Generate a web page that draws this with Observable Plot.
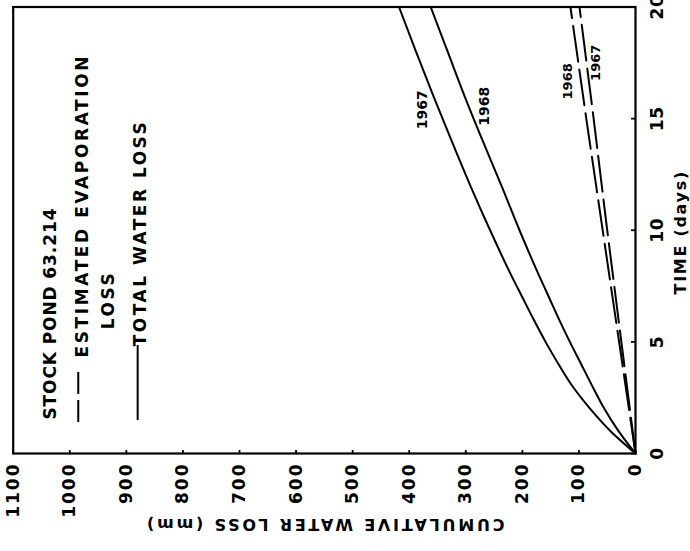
<!DOCTYPE html>
<html><head><meta charset="utf-8">
<script src="https://cdn.jsdelivr.net/npm/d3@7"></script>
<script src="https://cdn.jsdelivr.net/npm/@observablehq/plot@0.6"></script>
<style>
body{margin:0;background:#fff;}
#wrap{position:relative;width:690px;height:551px;overflow:hidden;background:#fff;}
#wrap > svg{position:absolute;left:0;top:0;transform-origin:0 0;transform:translate(0px,551px) rotate(-90deg);}
</style></head><body><div id="wrap"></div>
<script>
// Time (days) and cumulative water loss (mm), stock pond 63.214
const days = [0, 1, 2, 3, 4, 5, 6, 7, 8, 10, 12, 14, 16, 18, 20];
const total1967 = [0, 44, 80, 111, 136, 159, 180, 200, 220, 257, 292, 325, 357, 388, 418];
const total1968 = [0, 30, 55, 76, 96, 116, 135, 153, 171, 205, 237, 270, 302, 332, 362];
const evapDays = [0, 5, 10, 15, 20];
const evap1968 = [0, 29, 58, 87, 115];
const evap1967 = [0, 25, 50, 74, 99];
const timeTicks = [0, 5, 10, 15, 20];
const lossTicks = [0, 100, 200, 300, 400, 500, 600, 700, 800, 900, 1000, 1100];
const curveNames = ["1967", "1968", "1968", "1967"];
const legendLines = ["STOCK POND 63.214", "ESTIMATED EVAPORATION", "LOSS", "TOTAL WATER LOSS"];

const tot67 = days.map((t, i) => ({t, v: total1967[i]}));
const tot68 = days.map((t, i) => ({t, v: total1968[i]}));
const ev68 = evapDays.map((t, i) => ({t, v: evap1968[i]}));
const ev67 = evapDays.map((t, i) => ({t, v: evap1967[i]}));

// annotation placement (in data units)
const curveLabelPos = [
  {t: 15.4, v: 376, fs: 14},
  {t: 15.55, v: 267, fs: 14},
  {t: 16.67, v: 120, fs: 13},
  {t: 17.5, v: 71, fs: 13}
];
const legendPos = [
  {t: 1.52, v: 1025},
  {t: 4.30, v: 968},
  {t: 5.56, v: 921},
  {t: 4.80, v: 866}
];

const marks = [
  Plot.axisX({ticks: timeTicks, tickFormat: d => String(d), tickSize: 0, tickPadding: 15, fontSize: 17, label: null}),
  Plot.axisY({ticks: lossTicks, tickFormat: d => String(d), tickSize: 0, tickPadding: 9, fontSize: 17, label: null}),
  Plot.ruleX(timeTicks, {x: d => d, y1: 0, y2: 7, strokeWidth: 1.8}),
  Plot.ruleY(lossTicks, {y: d => d, x1: 0, x2: 0.18, strokeWidth: 1.8}),
  Plot.frame({strokeWidth: 2.2}),
  Plot.line(tot67, {x: "t", y: "v", curve: "monotone-x", strokeWidth: 2}),
  Plot.line(tot68, {x: "t", y: "v", curve: "monotone-x", strokeWidth: 2}),
  Plot.line(ev68, {x: "t", y: "v", strokeWidth: 2, strokeDasharray: "36,8"}),
  Plot.line(ev67, {x: "t", y: "v", strokeWidth: 2, strokeDasharray: "36,8"}),
  // legend keys
  Plot.ruleY([985], {y: d => d, x1: 1.43, x2: 3.76, strokeWidth: 2, strokeDasharray: "22,6"}),
  Plot.ruleY([880], {y: d => d, x1: 1.52, x2: 4.88, strokeWidth: 2}),
  Plot.text(["CUMULATIVE WATER LOSS (mm)"], {text: d => d, frameAnchor: "left", dx: -71, rotate: -90, fontSize: 16, textAnchor: "middle", lineAnchor: "middle"}),
  Plot.text(["TIME (days)"], {text: d => d, frameAnchor: "bottom", dx: -2, dy: 45, fontSize: 16, textAnchor: "middle", lineAnchor: "middle"})
];
curveNames.forEach((name, i) => {
  const p = curveLabelPos[i];
  marks.push(Plot.text([name], {text: d => d, x: () => p.t, y: () => p.v, fontSize: p.fs, lineAnchor: "middle"}));
});
legendLines.forEach((line, i) => {
  const p = legendPos[i];
  marks.push(Plot.text([line], {text: d => d, x: () => p.t, y: () => p.v, fontSize: 17, textAnchor: "start", lineAnchor: "bottom"}));
});

const svg = Plot.plot({
  width: 551, height: 690,
  marginLeft: 97, marginRight: 7.5, marginTop: 12.7, marginBottom: 55,
  x: {domain: [0, 20]},
  y: {domain: [0, 1100]},
  style: {fontFamily: "'DejaVu Sans', sans-serif", fontWeight: "bold", background: "white", color: "black"},
  marks
});

const spacing = {
  "STOCK POND 63.214": 0.9,
  "ESTIMATED EVAPORATION": 2.6,
  "LOSS": 2.6,
  "TOTAL WATER LOSS": 2.5,
  "CUMULATIVE WATER LOSS (mm)": 2.8,
  "TIME (days)": 1.7,
  "1967": 0, "1968": 0
};
d3.select(svg).selectAll("text").each(function() {
  const t = this.textContent;
  let s;
  if (t in spacing) s = spacing[t];
  else if (this.closest("g[aria-label='x-axis tick label']")) s = 0.7;
  else s = 2;
  this.setAttribute("letter-spacing", s);
});
document.getElementById("wrap").appendChild(svg);
</script>
</body></html>
